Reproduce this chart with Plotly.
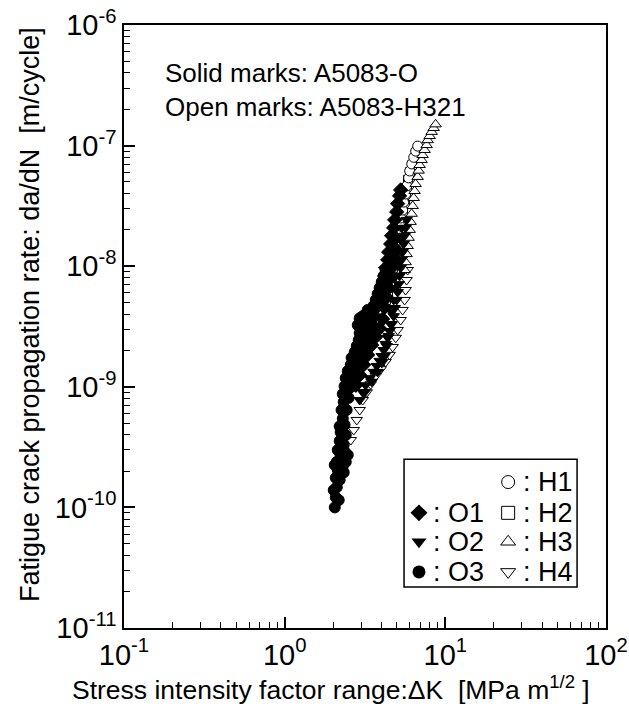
import plotly.graph_objects as go

# ---------------- data (ΔK [MPa m^1/2], da/dN [m/cycle]) ----------------
O3_dk = [2.05, 2.08, 2.11, 2.08, 2.14, 2.30, 2.11, 2.23, 2.36, 2.14, 2.20, 2.23, 2.20, 2.30, 2.26,
         2.33, 2.30, 2.36, 2.40, 2.47, 2.58, 2.61, 2.73, 2.81, 2.89, 2.93, 3.02, 3.10, 3.06, 3.24,
         3.19, 3.38, 3.48, 3.58, 3.69, 3.79, 3.90, 4.02, 4.13, 4.25,
         2.17, 2.02, 2.20, 2.33, 2.40, 2.05, 2.47, 2.33, 2.40, 2.36, 2.43, 2.50, 2.54, 2.73, 2.85,
         3.02, 3.19, 3.29, 2.85, 2.93, 3.29, 3.15]
O3_da = [1.0e-10, 1.21e-10, 1.47e-10, 1.76e-10, 2.04e-10, 2.2e-10, 2.38e-10, 2.68e-10, 2.9e-10, 2.99e-10,
         3.55e-10, 4.2e-10, 4.7e-10, 5.45e-10, 6.42e-10, 7.5e-10, 8.7e-10, 1.01e-9, 1.18e-9, 1.35e-9,
         1.52e-9, 1.74e-9, 1.94e-9, 2.18e-9, 2.44e-9, 2.78e-9, 3.1e-9, 3.43e-9, 3.85e-9, 3.58e-9,
         4.0e-9, 3.7e-9, 4.2e-9, 4.7e-9, 5.25e-9, 5.9e-9, 6.6e-9, 7.4e-9, 8.3e-9, 9.3e-9,
         1.15e-10, 1.39e-10, 1.69e-10, 1.95e-10, 2.38e-10, 2.25e-10, 2.72e-10, 3.29e-10, 3.98e-10,
         4.83e-10, 6.42e-10, 8.1e-10, 9.8e-10, 1.18e-9, 1.38e-9, 1.67e-9, 1.94e-9, 2.35e-9,
         3.25e-9, 3.7e-9, 4.34e-9, 3.1e-9]

O1_dk = [2.54, 2.65, 2.77, 2.85, 2.97, 3.15, 3.33, 3.48, 3.63, 3.74, 3.85, 3.96, 4.07, 4.19, 4.25,
         4.38, 4.44, 4.57, 4.63, 4.77, 4.84, 4.98, 5.05, 5.19, 5.27,
         2.77, 2.93, 3.10, 3.29, 3.48, 3.69, 3.90, 4.07, 4.19, 4.31, 4.44, 4.57, 4.63, 4.77, 4.84, 4.91]
O1_da = [1.14e-9, 1.38e-9, 1.67e-9, 1.94e-9, 2.27e-9, 2.64e-9, 2.96e-9, 3.3e-9, 3.85e-9, 4.55e-9,
         5.25e-9, 6.1e-9, 7.1e-9, 8.3e-9, 9.7e-9, 1.13e-8, 1.31e-8, 1.53e-8, 1.79e-8, 2.08e-8,
         2.42e-8, 2.82e-8, 3.3e-8, 3.83e-8, 4.29e-8,
         1.03e-9, 1.25e-9, 1.52e-9, 1.84e-9, 2.22e-9, 2.6e-9, 3.05e-9, 3.65e-9, 4.55e-9, 5.5e-9,
         6.6e-9, 8.0e-9, 9.7e-9, 1.17e-8, 1.41e-8, 1.71e-8]

O2_dk = [2.93, 3.06, 3.19, 3.38, 3.58, 3.74, 3.90, 4.02, 4.13, 4.25, 4.38, 4.50, 4.63, 4.77, 4.84,
         4.98, 5.05, 5.12, 5.19, 5.27, 5.35, 5.42, 5.50, 5.58, 5.66, 5.74,
         3.15, 3.48, 3.79, 4.02, 4.19, 4.31, 4.44, 4.57, 4.63, 4.77, 4.84, 4.91, 5.05, 5.12, 5.27, 5.35]
O2_da = [7.77e-10, 9.0e-10, 1.03e-9, 1.18e-9, 1.33e-9, 1.49e-9, 1.64e-9, 1.8e-9, 2.02e-9, 2.27e-9,
         2.55e-9, 2.9e-9, 3.3e-9, 3.85e-9, 4.5e-9, 5.25e-9, 6.1e-9, 7.1e-9, 8.3e-9, 9.7e-9,
         1.13e-8, 1.31e-8, 1.53e-8, 1.79e-8, 2.08e-8, 2.42e-8,
         9.0e-10, 1.1e-9, 1.33e-9, 1.58e-9, 1.8e-9, 2.18e-9, 2.64e-9, 3.3e-9, 4.18e-9, 5.25e-9,
         6.6e-9, 8.3e-9, 1.05e-8, 1.31e-8, 1.65e-8, 2.08e-8]

H1_dk = [4.77, 4.91, 5.05, 5.20, 5.27, 5.43, 5.51, 5.67, 5.75, 5.91, 6.00, 6.18, 6.36, 6.54, 6.73]
H1_da = [1.36e-8, 1.58e-8, 1.87e-8, 2.16e-8, 2.51e-8, 2.92e-8, 3.4e-8, 3.97e-8, 4.63e-8, 5.4e-8,
         6.16e-8, 7.05e-8, 8.0e-8, 9.0e-8, 9.9e-8]

H2_dk = [4.27, 4.40, 4.53, 4.66, 4.73, 4.86, 4.94, 5.08, 5.16, 5.30, 5.38, 5.45, 5.62, 5.69, 5.78,
         5.86, 6.03, 6.21]
H2_da = [5.25e-9, 6.1e-9, 7.1e-9, 8.3e-9, 9.7e-9, 1.13e-8, 1.31e-8, 1.53e-8, 1.79e-8, 2.08e-8,
         2.42e-8, 2.82e-8, 3.3e-8, 3.83e-8, 4.45e-8, 5.19e-8, 6.04e-8, 6.9e-8]

H3_dk = [5.58, 5.66, 5.74, 5.83, 5.91, 6.00, 6.08, 6.17, 6.26, 6.35, 6.44, 6.53, 6.72, 6.82, 6.92,
         7.12, 7.22, 7.43, 7.65, 7.76, 7.99, 8.22, 8.46, 8.70]
H3_da = [9.3e-9, 1.08e-8, 1.26e-8, 1.47e-8, 1.72e-8, 2.0e-8, 2.33e-8, 2.72e-8, 3.16e-8, 3.68e-8,
         4.2e-8, 4.8e-8, 5.5e-8, 6.2e-8, 6.9e-8, 7.6e-8, 8.35e-8, 9.2e-8, 1.01e-7, 1.11e-7,
         1.2e-7, 1.3e-7, 1.4e-7, 1.5e-7]

H4_dk = [2.58, 2.69, 2.81, 2.93, 3.06, 3.24, 3.43, 3.69, 3.96, 4.25, 4.50, 4.70, 4.91, 5.05, 5.27,
         5.42, 5.58, 5.66, 5.74, 5.83]
H4_da = [3.62e-10, 4.38e-10, 5.31e-10, 6.42e-10, 7.77e-10, 9.0e-10, 1.05e-9, 1.23e-9, 1.4e-9, 1.61e-9,
         1.84e-9, 2.14e-9, 2.55e-9, 2.96e-9, 3.58e-9, 4.34e-9, 5.25e-9, 6.35e-9, 7.68e-9, 9.3e-9]

x_tickvals = [0.1, 1, 10, 100]
x_ticktext = ["10<sup>-1</sup>", "10<sup>0</sup>", "10<sup>1</sup>", "10<sup>2</sup>"]
y_tickvals = [1e-11, 1e-10, 1e-9, 1e-8, 1e-7, 1e-6]
y_ticktext = ["10<sup>-11</sup>", "10<sup>-10</sup>", "10<sup>-9</sup>", "10<sup>-8</sup>",
              "10<sup>-7</sup>", "10<sup>-6</sup>"]
x_minor = [v * m for m in (0.1, 1, 10) for v in range(2, 10)]
y_minor = [v * m for m in (1e-11, 1e-10, 1e-9, 1e-8, 1e-7) for v in range(2, 10)]

legend_left = ["", ": O1", ": O2", ": O3"]
legend_right = [": H1", ": H2", ": H3", ": H4"]

FONT = "Liberation Sans, Arial, Helvetica, sans-serif"

# ---------------- figure ----------------
fig = go.Figure()

def open_trace(x, y, sym, size=10):
    return go.Scatter(x=x, y=y, mode="markers", showlegend=False, hoverinfo="skip",
                      marker=dict(symbol=sym, size=size, color="white",
                                  line=dict(color="black", width=1)))

def solid_trace(x, y, sym, size=10):
    return go.Scatter(x=x, y=y, mode="markers", showlegend=False, hoverinfo="skip",
                      marker=dict(symbol=sym, size=size, color="black",
                                  line=dict(color="black", width=1)))

fig.add_trace(open_trace(H4_dk, H4_da, "triangle-down"))
fig.add_trace(open_trace(H2_dk, H2_da, "square", 9))
fig.add_trace(open_trace(H1_dk, H1_da, "circle"))
fig.add_trace(open_trace(H3_dk, H3_da, "triangle-up"))
fig.add_trace(solid_trace(O2_dk, O2_da, "triangle-down"))
fig.add_trace(solid_trace(O1_dk, O1_da, "diamond", 11))
fig.add_trace(solid_trace(O3_dk, O3_da, "circle", 11))

# dummy trace so the minor-tick overlay axes are drawn
fig.add_trace(go.Scatter(x=[], y=[], xaxis="x3", yaxis="y3", mode="markers",
                         showlegend=False, hoverinfo="skip"))

# ---- legend box (drawn on overlay axes in 0..1 units) ----
row_y = [0.242, 0.191, 0.143, 0.093]
lx, rx = 0.612, 0.797
left_syms = [None, "diamond", "triangle-down", "circle"]
right_syms = ["circle-open", "square-open", "triangle-up-open", "triangle-down-open"]
for i, yv in enumerate(row_y):
    if left_syms[i]:
        fig.add_trace(go.Scatter(x=[lx], y=[yv], xaxis="x2", yaxis="y2", mode="markers",
                                 showlegend=False, hoverinfo="skip",
                                 marker=dict(symbol=left_syms[i], size=13, color="black")))
    fig.add_trace(go.Scatter(x=[rx], y=[yv], xaxis="x2", yaxis="y2", mode="markers",
                             showlegend=False, hoverinfo="skip",
                             marker=dict(symbol=right_syms[i], size=13, color="black",
                                         line=dict(color="black", width=1))))
    if legend_left[i]:
        fig.add_annotation(x=0.637, y=yv, xref="paper", yref="paper", text=legend_left[i],
                           showarrow=False, xanchor="left", yanchor="middle",
                           font=dict(size=27, color="black", family=FONT))
    fig.add_annotation(x=0.823, y=yv, xref="paper", yref="paper", text=legend_right[i],
                       showarrow=False, xanchor="left", yanchor="middle",
                       font=dict(size=27, color="black", family=FONT))

fig.add_shape(type="rect", xref="paper", yref="paper", x0=0.581, x1=0.940, y0=0.068, y1=0.280,
              line=dict(color="black", width=1.5), fillcolor="rgba(0,0,0,0)")

fig.add_annotation(x=0.081, y=0.920, xref="paper", yref="paper", text="Solid marks: A5083-O",
                   showarrow=False, xanchor="left", yanchor="middle",
                   font=dict(size=26, color="black", family=FONT))
fig.add_annotation(x=0.081, y=0.864, xref="paper", yref="paper", text="Open marks: A5083-H321",
                   showarrow=False, xanchor="left", yanchor="middle",
                   font=dict(size=26, color="black", family=FONT))

# axis titles
fig.add_annotation(x=0.429, y=-0.10, xref="paper", yref="paper",
                   text="Stress intensity factor range:ΔK  [MPa m<sup>1/2</sup> ]",
                   showarrow=False, xanchor="center", yanchor="middle",
                   font=dict(size=26.5, color="black", family=FONT))
fig.add_annotation(x=-0.195, y=0.519, xref="paper", yref="paper", textangle=-90,
                   text="Fatigue crack propagation rate: da/dN  [m/cycle]",
                   showarrow=False, xanchor="center", yanchor="middle",
                   font=dict(size=27, color="black", family=FONT))

fig.update_layout(
    template="none",
    width=629, height=720,
    margin=dict(l=124, r=23, t=25, b=92, autoexpand=False),
    paper_bgcolor="white", plot_bgcolor="white",
    font=dict(family=FONT, color="black"),
    showlegend=False,
    xaxis=dict(type="log", range=[-1, 2], tickmode="array", tickvals=x_tickvals,
               ticktext=x_ticktext, ticks="inside", ticklen=11, tickwidth=1.5,
               tickcolor="black", automargin=False,
               showline=True, linecolor="black", linewidth=1.5, mirror=True,
               showgrid=False, zeroline=False, tickfont=dict(size=29)),
    yaxis=dict(type="log", range=[-11, -6], tickmode="array", tickvals=y_tickvals,
               ticktext=y_ticktext, ticks="inside", ticklen=11, tickwidth=1.5,
               tickcolor="black", automargin=False,
               showline=True, linecolor="black", linewidth=1.5, mirror=True,
               showgrid=False, zeroline=False, tickfont=dict(size=29)),
    xaxis2=dict(overlaying="x", range=[0, 1], visible=False, fixedrange=True),
    yaxis2=dict(overlaying="y", range=[0, 1], visible=False, fixedrange=True),
    xaxis3=dict(overlaying="x", anchor="y3", side="bottom", type="log", range=[-1, 2],
                tickmode="array", tickvals=x_minor, showticklabels=False,
                ticks="inside", ticklen=6, tickwidth=1.3, tickcolor="black",
                showline=False, showgrid=False, zeroline=False, automargin=False),
    yaxis3=dict(overlaying="y", anchor="x3", side="left", type="log", range=[-11, -6],
                tickmode="array", tickvals=y_minor, showticklabels=False,
                ticks="inside", ticklen=6, tickwidth=1.3, tickcolor="black",
                showline=False, showgrid=False, zeroline=False, automargin=False),
)

fig.write_html("out.html")
